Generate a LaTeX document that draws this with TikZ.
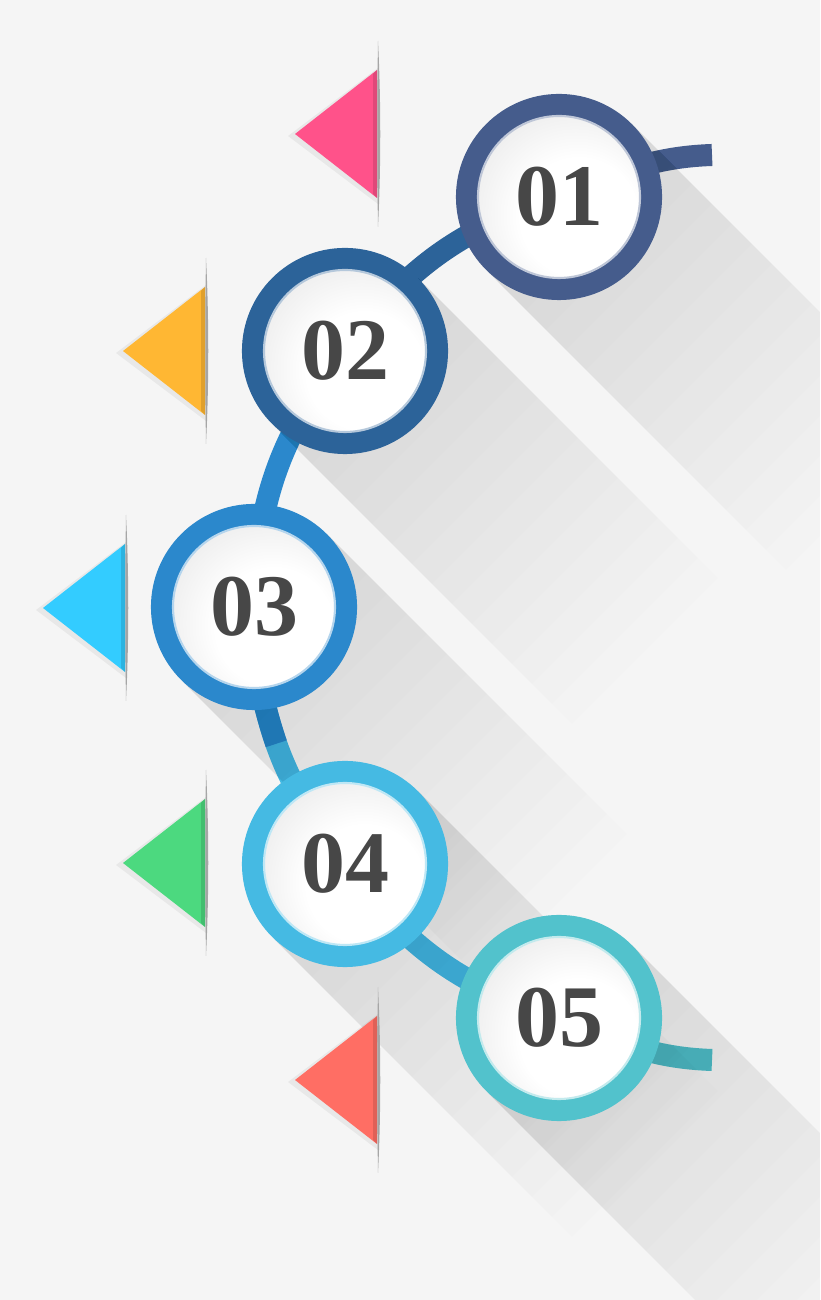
\documentclass[tikz,border=0pt]{standalone}
\usepackage{fontspec}
\setmainfont{Liberation Serif}
\usetikzlibrary{backgrounds}

\definecolor{bg}{RGB}{245,245,245}
\definecolor{numgray}{RGB}{71,71,71}
\definecolor{ring1}{RGB}{69,92,140}
\definecolor{ring2}{RGB}{44,99,153}
\definecolor{ring3}{RGB}{43,136,204}
\definecolor{ring4}{RGB}{69,186,227}
\definecolor{ring5}{RGB}{82,194,204}
\definecolor{tpink}{RGB}{255,82,138}
\definecolor{torange}{RGB}{255,183,51}
\definecolor{tcyan}{RGB}{51,204,255}
\definecolor{tgreen}{RGB}{76,217,127}
\definecolor{tsalmon}{RGB}{255,110,100}

\pgfdeclareradialshading{disc}{\pgfpoint{8bp}{-8bp}}{color(0bp)=(white); color(16bp)=(white); color(38bp)=(black!12); color(50bp)=(black!24)}

\begin{document}
\begin{tikzpicture}[x=0.01cm, y=0.01cm,
    stage/.style={circle, minimum size=1.84cm, line width=0.22cm, shade, shading=disc, text=numgray, font=\bfseries\fontsize{25}{25}\selectfont},
    arm/.style={line width=0.22cm},
    rim/.style={line width=0.6pt},
    longshadow/.style={fill=black, opacity=.009},
    slit/.style={fill=black!35},
    tridark/.style={fill=black, opacity=.12},
    trishadow/.style={fill=black, opacity=.05}]

	\useasboundingbox (0,0) rectangle (820,1300);

	\node[stage, draw=ring1] (s1) at (559,1103){01};
	\node[stage, draw=ring2] (s2) at (345,949){02};
	\node[stage, draw=ring3] (s3) at (254,693){03};
	\node[stage, draw=ring4] (s4) at (345,436){04};
	\node[stage, draw=ring5] (s5) at (559,282){05};
	\coordinate (top) at (712,1145);
	\coordinate (bot) at (712,240);

	\draw[rim, ring1!35!white] (s1.center) circle[radius=81];
	\draw[rim, ring2!35!white] (s2.center) circle[radius=81];
	\draw[rim, ring3!35!white] (s3.center) circle[radius=81];
	\draw[rim, ring4!35!white] (s4.center) circle[radius=81];
	\draw[rim, ring5!35!white] (s5.center) circle[radius=81];

	\begin{scope}[on background layer]
	\fill[bg] (0,0) rectangle (820,1300);
	\draw[arm, ring1] (top) to[out=182, in=22] (s1.center);
	\draw[arm, ring2] (s1.center) to[bend right=18] (s2.center);
	\draw[arm, ring3] (s2.center) to[bend right=18] (s3.center);
	\draw[arm, ring4] (s3.center) to[bend right=18] node[coordinate] (m34) {} (s4.center);
	\draw[arm, ring3] (s3.center) to[bend right=9] (m34);
	\draw[arm, ring4] (s4.center) to[bend right=18] (s5.center);
	\draw[arm, ring5] (s5.center) to[out=-22, in=178] (bot);
	\clip (0,0) rectangle (820,1300);
	% long shadows, stacked
	\foreach \s in {s1,s2,s3,s4,s5}
		\foreach \k in {1,...,15}
			\fill[longshadow] (\s.45) -- ++(\k*20,-\k*20) -- ++(-146,-146) -- (\s.225) -- cycle;
	\end{scope}

	% pink
	\fill[slit] (378,1259) .. controls (381,1200) and (381,1132) .. (378,1073) .. controls (377,1132) and (377,1200) .. (378,1259);
	\fill[trishadow] (378,1232) -- (288,1164) -- (378,1096) -- cycle;
	\fill[tpink] (377,1230) -- (295,1166) -- (377,1102) -- cycle;
	\fill[tridark] (373,1226) -- (377,1230) -- (377,1102) -- (373,1106) -- cycle;
	% orange
	\fill[slit] (206,1042) .. controls (209,983) and (209,915) .. (206,856) .. controls (205,915) and (205,983) .. (206,1042);
	\fill[trishadow] (206,1015) -- (116,947) -- (206,879) -- cycle;
	\fill[torange] (205,1013) -- (123,949) -- (205,885) -- cycle;
	\fill[tridark] (201,1009) -- (205,1013) -- (205,885) -- (201,889) -- cycle;
	% cyan
	\fill[slit] (126,785) .. controls (129,726) and (129,658) .. (126,599) .. controls (125,658) and (125,726) .. (126,785);
	\fill[trishadow] (126,758) -- (36,690) -- (126,622) -- cycle;
	\fill[tcyan] (125,756) -- (43,692) -- (125,628) -- cycle;
	\fill[tridark] (121,752) -- (125,756) -- (125,628) -- (121,632) -- cycle;
	% green
	\fill[slit] (206,530) .. controls (209,471) and (209,403) .. (206,344) .. controls (205,403) and (205,471) .. (206,530);
	\fill[trishadow] (206,503) -- (116,435) -- (206,367) -- cycle;
	\fill[tgreen] (205,501) -- (123,437) -- (205,373) -- cycle;
	\fill[tridark] (201,497) -- (205,501) -- (205,373) -- (201,377) -- cycle;
	% salmon
	\fill[slit] (378,313) .. controls (381,254) and (381,186) .. (378,127) .. controls (377,186) and (377,254) .. (378,313);
	\fill[trishadow] (378,286) -- (288,218) -- (378,150) -- cycle;
	\fill[tsalmon] (377,284) -- (295,220) -- (377,156) -- cycle;
	\fill[tridark] (373,280) -- (377,284) -- (377,156) -- (373,160) -- cycle;
\end{tikzpicture}
\end{document}
